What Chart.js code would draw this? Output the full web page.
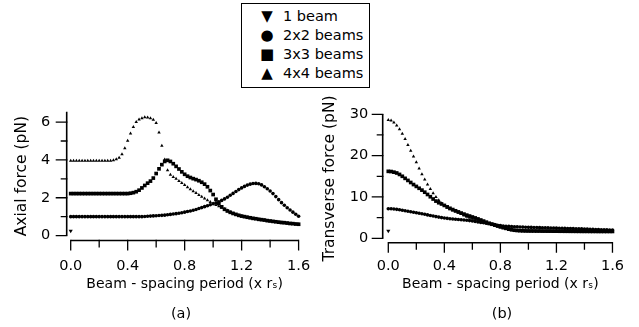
<!DOCTYPE html>
<html>
<head>
<meta charset="utf-8">
<script src="https://cdn.jsdelivr.net/npm/chart.js@4.4.1/dist/chart.umd.min.js"></script>
<style>
  html, body { margin: 0; padding: 0; background: #fff; }
  body { width: 639px; height: 327px; position: relative; overflow: hidden;
         font-family: "DejaVu Sans", sans-serif; color: #000; }
  .wrap { position: absolute; top: 0; }
  .tag { position: absolute; top: 305px; width: 40px; text-align: center;
         font-size: 14.5px; line-height: 16px; }
  #legend { position: absolute; left: 241px; top: 3px; width: 127px; height: 83px;
            border: 1.5px solid #000; font-size: 14.5px; }
  #legend div { position: absolute; left: 0; height: 19px; line-height: 19px; white-space: nowrap; }
  #legend .mk { position: absolute; left: 16px; width: 18px; text-align: center; font-size: 15px; }
  #legend .tx { position: absolute; left: 41px; }
</style>
</head>
<body>
<div id="legend"></div>
<div class="wrap" style="left:0"><canvas id="chartA" width="330" height="327"></canvas></div>
<div class="wrap" style="left:320px"><canvas id="chartB" width="319" height="327"></canvas></div>
<div class="tag" style="left:161px">(a)</div>
<div class="tag" style="left:482px">(b)</div>
<script>
// 범례 / 계열 이름
const seriesNames = ["1 beam", "2x2 beams", "3x3 beams", "4x4 beams"];

// beam-spacing period (x r_s)
const spacing = [0, 0.02, 0.04, 0.06, 0.08, 0.1, 0.12, 0.14, 0.16, 0.18,
    0.2, 0.22, 0.24, 0.26, 0.28, 0.3, 0.32, 0.34, 0.36, 0.38,
    0.4, 0.42, 0.44, 0.46, 0.48, 0.5, 0.52, 0.54, 0.56, 0.58,
    0.6, 0.62, 0.64, 0.66, 0.68, 0.7, 0.72, 0.74, 0.76, 0.78,
    0.8, 0.82, 0.84, 0.86, 0.88, 0.9, 0.92, 0.94, 0.96, 0.98,
    1, 1.02, 1.04, 1.06, 1.08, 1.1, 1.12, 1.14, 1.16, 1.18,
    1.2, 1.22, 1.24, 1.26, 1.28, 1.3, 1.32, 1.34, 1.36, 1.38,
    1.4, 1.42, 1.44, 1.46, 1.48, 1.5, 1.52, 1.54, 1.56, 1.58,
    1.6];
const singleSpacing = [0];

// (a) axial force (pN)
const axial1 = [0.25];
const axial2x2 = [1, 1, 1, 1, 1, 1, 1, 1, 1, 1,
    1, 1, 1, 1, 1, 1, 1, 1, 1, 1,
    1, 1, 1, 1, 1, 1, 1.01, 1.02, 1.03, 1.04,
    1.05, 1.06, 1.07, 1.08, 1.1, 1.12, 1.14, 1.16, 1.18, 1.21,
    1.24, 1.27, 1.3, 1.34, 1.38, 1.43, 1.48, 1.53, 1.58, 1.63,
    1.68, 1.73, 1.79, 1.86, 1.94, 2.03, 2.13, 2.23, 2.33, 2.43,
    2.52, 2.6, 2.67, 2.72, 2.75, 2.76, 2.74, 2.68, 2.58, 2.48,
    2.36, 2.22, 2.06, 1.9, 1.74, 1.6, 1.47, 1.35, 1.24, 1.13,
    1.02];
const axial3x3 = [2.22, 2.22, 2.22, 2.22, 2.22, 2.22, 2.22, 2.22, 2.22, 2.22,
    2.22, 2.22, 2.22, 2.22, 2.22, 2.22, 2.22, 2.22, 2.22, 2.22,
    2.22, 2.24, 2.27, 2.32, 2.4, 2.52, 2.65, 2.77, 2.88, 3.04,
    3.28, 3.53, 3.75, 3.92, 3.98, 3.92, 3.8, 3.66, 3.52, 3.37,
    3.24, 3.14, 3.07, 3.01, 2.96, 2.9, 2.82, 2.72, 2.58, 2.38,
    2.17, 1.92, 1.7, 1.52, 1.39, 1.3, 1.23, 1.17, 1.12, 1.07,
    1.03, 1, 0.97, 0.94, 0.91, 0.89, 0.86, 0.84, 0.82, 0.79,
    0.77, 0.75, 0.73, 0.71, 0.69, 0.68, 0.66, 0.64, 0.63, 0.61,
    0.6];
const axial4x4 = [3.95, 3.95, 3.95, 3.95, 3.95, 3.95, 3.95, 3.95, 3.95, 3.95,
    3.95, 3.95, 3.95, 3.95, 3.96, 3.98, 4.03, 4.12, 4.3, 4.62,
    5.02, 5.4, 5.74, 6, 6.14, 6.21, 6.25, 6.24, 6.2, 6.12,
    5.95, 5.45, 4.75, 4.02, 3.45, 3.22, 3.1, 3, 2.89, 2.78,
    2.67, 2.56, 2.45, 2.35, 2.25, 2.15, 2.05, 1.96, 1.87, 1.78,
    1.7, 1.62, 1.55, 1.47, 1.4, 1.32, 1.25, 1.18, 1.12, 1.07,
    1.03, 1, 0.97, 0.94, 0.91, 0.89, 0.86, 0.84, 0.82, 0.79,
    0.77, 0.75, 0.73, 0.71, 0.69, 0.68, 0.66, 0.64, 0.63, 0.61,
    0.6];

// (b) transverse force (pN)
const trans1 = [1.8];
const trans2x2 = [7.15, 7.13, 7.08, 7, 6.9, 6.78, 6.66, 6.54, 6.42, 6.3,
    6.18, 6.06, 5.93, 5.8, 5.66, 5.52, 5.38, 5.25, 5.12, 5,
    4.9, 4.82, 4.74, 4.67, 4.6, 4.54, 4.48, 4.43, 4.38, 4.28,
    4.17, 4.05, 3.93, 3.83, 3.74, 3.66, 3.58, 3.45, 3.3, 3.15,
    3.05, 2.98, 2.92, 2.87, 2.83, 2.8, 2.77, 2.74, 2.71, 2.68,
    2.65, 2.63, 2.61, 2.59, 2.57, 2.55, 2.53, 2.51, 2.49, 2.47,
    2.45, 2.43, 2.41, 2.39, 2.37, 2.35, 2.33, 2.31, 2.29, 2.27,
    2.25, 2.22, 2.19, 2.16, 2.13, 2.1, 2.08, 2.06, 2.04, 2.02,
    2];
const trans3x3 = [16.2, 16.15, 16, 15.8, 15.45, 15, 14.5, 14, 13.5, 13,
    12.55, 12.1, 11.65, 11.15, 10.6, 10.05, 9.5, 9, 8.6, 8.3,
    7.95, 7.6, 7.25, 6.95, 6.65, 6.38, 6.1, 5.85, 5.6, 5.38,
    5.15, 4.92, 4.68, 4.42, 4.16, 3.9, 3.63, 3.4, 3.2, 3,
    2.8, 2.6, 2.4, 2.2, 2.05, 1.95, 1.88, 1.83, 1.8, 1.78,
    1.77, 1.76, 1.76, 1.75, 1.75, 1.74, 1.74, 1.73, 1.73, 1.72,
    1.72, 1.71, 1.71, 1.7, 1.7, 1.69, 1.69, 1.68, 1.68, 1.67,
    1.67, 1.67, 1.66, 1.66, 1.66, 1.65, 1.65, 1.65, 1.65, 1.65,
    1.65];
const trans4x4 = [28.6, 28.5, 28, 27.3, 26.4, 25.3, 24, 22.6, 21.2, 19.8,
    18.4, 16.9, 15.5, 14.2, 13, 11.9, 10.9, 10, 9.2, 8.5,
    7.9, 7.4, 7, 6.7, 6.45, 6.15, 5.85, 5.5, 5.2, 4.95,
    4.7, 4.45, 4.2, 4, 3.8, 3.6, 3.4, 3.2, 3, 2.8,
    2.6, 2.4, 2.22, 2.08, 1.98, 1.9, 1.85, 1.81, 1.78, 1.77,
    1.76, 1.75, 1.75, 1.74, 1.74, 1.73, 1.73, 1.72, 1.72, 1.71,
    1.71, 1.7, 1.7, 1.69, 1.69, 1.68, 1.68, 1.67, 1.67, 1.66,
    1.66, 1.66, 1.65, 1.65, 1.65, 1.64, 1.64, 1.64, 1.64, 1.64,
    1.64];

// 눈금
const xTickLabels = [0, 0.4, 0.8, 1.2, 1.6];
const xTickMarks = [0, 0.2, 0.4, 0.6, 0.8, 1, 1.2, 1.4, 1.6];
const axialTickLabels = [0, 2, 4, 6];
const axialTickMarks = [0, 1, 2, 3, 4, 5, 6];
const transTickLabels = [0, 10, 20, 30];
const transTickMarks = [0, 5, 10, 15, 20, 25, 30];

// 마커 모양 (계열 순서대로)
const markers = [
    { shape: "triangle", r: 2.4, rot: 180, glyph: "\u25BC" },
    { shape: "circle", r: 1.8, rot: 0, glyph: "\u25CF" },
    { shape: "rect", r: 2.6, rot: 0, glyph: "\u25A0" },
    { shape: "triangle", r: 2, rot: 0, glyph: "\u25B2" },
];

const FONT = "'DejaVu Sans', sans-serif";

// Igor 스타일: 축선이 서로 떨어져 있음 + 보조 눈금
const offsetAxes = {
    id: "offsetAxes",
    afterDatasetsDraw(chart, args, opts) {
        const { ctx, chartArea, scales: { x, y } } = chart;
        const axX = x.getPixelForValue(0) - opts.gap;
        const axY = chartArea.bottom;
        ctx.save();
        ctx.strokeStyle = "#000";
        ctx.lineWidth = 1.6;
        ctx.beginPath();
        ctx.moveTo(axX, y.getPixelForValue(opts.yTop));
        ctx.lineTo(axX, y.getPixelForValue(0));
        ctx.moveTo(x.getPixelForValue(0), axY);
        ctx.lineTo(x.getPixelForValue(1.6), axY);
        ctx.stroke();
        ctx.lineWidth = 1.3;
        ctx.beginPath();
        opts.yMarks.forEach((v, i) => {
            const p = y.getPixelForValue(v);
            const len = i % 2 === 0 ? 11 : 6;
            ctx.moveTo(axX - len, p);
            ctx.lineTo(axX + 0.7, p);
        });
        xTickMarks.forEach((v, i) => {
            const p = x.getPixelForValue(v);
            const len = i % 2 === 0 ? 10 : 7;
            ctx.moveTo(p, axY - 0.7);
            ctx.lineTo(p, axY + len);
        });
        ctx.stroke();
        ctx.restore();
    }
};

function series(i, xs, ys) {
    const m = markers[i];
    return {
        label: seriesNames[i],
        data: xs.map((x, k) => ({ x: x, y: ys[k] })),
        showLine: false,
        pointStyle: m.shape,
        pointRadius: m.r,
        pointRotation: m.rot,
        pointBackgroundColor: "#000",
        pointBorderColor: "#000",
        pointBorderWidth: 0,
        clip: false,
    };
}

/**
 * 패널 하나 생성
 */
function createPanel(canvas, p) {
    return new Chart(canvas, {
        type: "scatter",
        data: { datasets: p.datasets },
        options: {
            responsive: false,
            animation: false,
            events: [],
            layout: { padding: { top: p.top, right: p.right, bottom: 0, left: 0 } },
            plugins: {
                legend: { display: false },
                tooltip: { enabled: false },
                offsetAxes: { gap: p.gap, yTop: p.yTop, yMarks: p.yMarks },
            },
            scales: {
                x: {
                    type: "linear", min: 0, max: 1.6,
                    grid: { display: false, drawTicks: false },
                    border: { display: false },
                    afterBuildTicks: s => { s.ticks = xTickLabels.map(v => ({ value: v })); },
                    afterFit: s => { s.height = p.xHeight; },
                    ticks: {
                        padding: p.xPad, color: "#000", maxRotation: 0,
                        font: { family: FONT, size: 14.5 },
                        callback: v => v.toFixed(1),
                    },
                    title: {
                        display: true, text: "Beam - spacing period (x r\u209B)", color: "#000",
                        font: { family: FONT, size: 14 },
                        padding: { top: 0, bottom: p.xTitlePad },
                    },
                },
                y: {
                    type: "linear", min: p.yMin, max: p.yMax,
                    grid: { display: false, drawTicks: false },
                    border: { display: false },
                    afterBuildTicks: s => { s.ticks = p.yLabels.map(v => ({ value: v })); },
                    afterFit: s => { s.width = p.yWidth; },
                    ticks: {
                        padding: p.yPad, color: "#000",
                        font: { family: FONT, size: 14.5 },
                        callback: v => String(v),
                    },
                    title: {
                        display: true, text: p.yTitle, color: "#000",
                        font: { family: FONT, size: 15.5 },
                        padding: { top: p.yTitlePad, bottom: 0 },
                    },
                },
            },
        },
        plugins: [offsetAxes],
    });
}

createPanel(document.getElementById("chartA"), {
    datasets: [
        series(0, singleSpacing, axial1),
        series(1, spacing, axial2x2),
        series(2, spacing, axial3x3),
        series(3, spacing, axial4x4),
    ],
    top: 111.7, right: 31.4, xHeight: 86.5, yWidth: 70.7,
    yMin: -0.26, yMax: 6.55, yTop: 6.55,
    yLabels: axialTickLabels, yMarks: axialTickMarks,
    gap: 4, xPad: 17.5, yPad: 20.5, xTitlePad: 34.5, yTitlePad: 13,
    yTitle: "Axial force (pN)",
});

createPanel(document.getElementById("chartB"), {
    datasets: [
        series(0, singleSpacing, trans1),
        series(1, spacing, trans2x2),
        series(2, spacing, trans3x3),
        series(3, spacing, trans4x4),
    ],
    top: 114.3, right: 22.3, xHeight: 84.3, yWidth: 68.3,
    yMin: -1.07, yMax: 30, yTop: 30,
    yLabels: transTickLabels, yMarks: transTickMarks,
    gap: 5.6, xPad: 15, yPad: 20, xTitlePad: 34.5, yTitlePad: 1,
    yTitle: "Transverse force (pN)",
});

// 범례 (HTML)
const legendBox = document.getElementById("legend");
seriesNames.forEach((name, i) => {
    const row = document.createElement("div");
    row.style.top = (2.5 + i * 19) + "px";
    row.innerHTML = '<span class="mk">' + markers[i].glyph + '</span><span class="tx">' + name + "</span>";
    legendBox.appendChild(row);
});
</script>
</body>
</html>
